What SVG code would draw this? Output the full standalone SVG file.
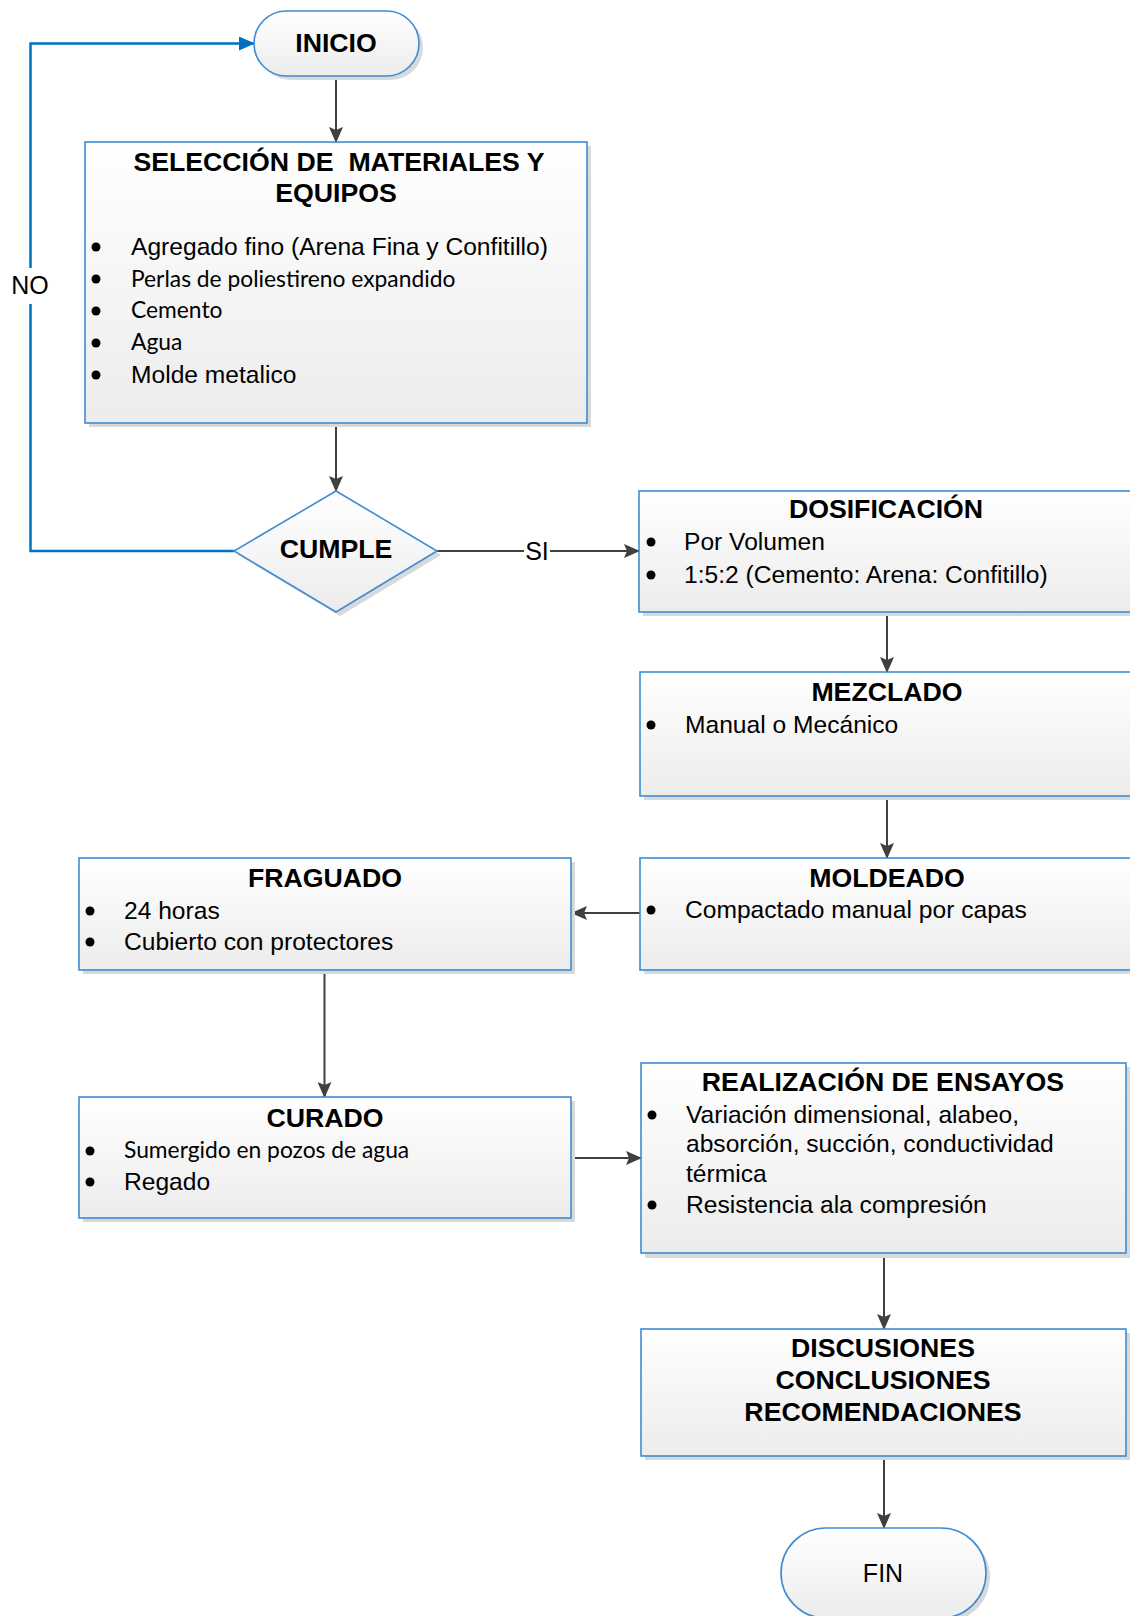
<svg xmlns="http://www.w3.org/2000/svg" width="1130" height="1616" viewBox="0 0 1130 1616">
<defs>
<linearGradient id="g" x1="0" y1="0" x2="0" y2="1">
<stop offset="0" stop-color="#ffffff"/>
<stop offset="1" stop-color="#ececec"/>
</linearGradient>
<marker id="ah" markerWidth="16" markerHeight="14" refX="15" refY="7" orient="auto" markerUnits="userSpaceOnUse">
<path d="M0,0 L16,7 L0,14 L3,7 Z" fill="#404040"/>
</marker>
<marker id="ahb" markerWidth="16" markerHeight="14" refX="15" refY="7" orient="auto" markerUnits="userSpaceOnUse">
<path d="M0,0 L16,7 L0,14 Z" fill="#0070c0"/>
</marker>
<style>
.box{fill:url(#g);stroke:#3d8cd4;stroke-width:1.6}
.sh{fill:#d9d9d9}
.t{font-family:"Liberation Sans",Arial,sans-serif;font-weight:bold;font-size:26.7px;fill:#000;text-anchor:middle}
.b{font-family:"Liberation Sans",Arial,sans-serif;font-size:24.6px;fill:#000}
.c{font-family:Lato,"Open Sans",sans-serif;font-size:22.8px;fill:#000}
.lbl{font-family:"Liberation Sans",Arial,sans-serif;font-size:25px;fill:#000;text-anchor:middle}
.dot{fill:#000}
.cn{fill:none;stroke:#404040;stroke-width:2}
.cb{fill:none;stroke:#0070c0;stroke-width:2.5}
</style>
</defs>
<rect width="1130" height="1616" fill="#fff"/>

<g id="connectors">
<line class="cn" x1="336" y1="76" x2="336" y2="142" marker-end="url(#ah)"/>
<line class="cn" x1="336" y1="423" x2="336" y2="491" marker-end="url(#ah)"/>
<line class="cn" x1="437" y1="551" x2="639" y2="551" marker-end="url(#ah)"/>
<rect x="524" y="536" width="26" height="28" fill="#fff"/>
<text class="lbl" x="537" y="560">SI</text>
<path class="cb" d="M234,551 H30.5 V43.5 H254" marker-end="url(#ahb)"/>
<rect x="8" y="268" width="46" height="36" fill="#fff"/>
<text class="lbl" x="30" y="294">NO</text>
<line class="cn" x1="887" y1="612" x2="887" y2="672" marker-end="url(#ah)"/>
<line class="cn" x1="887" y1="796" x2="887" y2="858" marker-end="url(#ah)"/>
<line class="cn" x1="640" y1="913" x2="572" y2="913" marker-end="url(#ah)"/>
<line class="cn" x1="324.5" y1="970" x2="324.5" y2="1097" marker-end="url(#ah)"/>
<line class="cn" x1="572" y1="1158" x2="641" y2="1158" marker-end="url(#ah)"/>
<line class="cn" x1="884" y1="1253" x2="884" y2="1329" marker-end="url(#ah)"/>
<line class="cn" x1="884" y1="1456" x2="884" y2="1528" marker-end="url(#ah)"/>
</g>

<g id="inicio">
<rect class="sh" x="258" y="15" width="165" height="65" rx="32.5"/>
<rect class="box" x="254" y="11" width="165" height="65" rx="32.5"/>
<text class="t" x="336" y="52" font-size="25.5">INICIO</text>
</g>

<g id="seleccion">
<rect class="sh" x="89" y="146" width="502" height="281"/>
<rect class="box" x="85" y="142" width="502" height="281"/>
<text class="t" x="339" y="171" xml:space="preserve">SELECCIÓN DE  MATERIALES Y</text>
<text class="t" x="336" y="202">EQUIPOS</text>
<circle class="dot" cx="96" cy="247" r="4.5"/>
<text class="b" x="131" y="255">Agregado fino (Arena Fina y Confitillo)</text>
<circle class="dot" cx="96" cy="279" r="4.5"/>
<text class="c" x="131" y="287">Perlas de poliestireno expandido</text>
<circle class="dot" cx="96" cy="311" r="4.5"/>
<text class="c" x="131" y="318">Cemento</text>
<circle class="dot" cx="96" cy="343" r="4.5"/>
<text class="c" x="131" y="350">Agua</text>
<circle class="dot" cx="96" cy="375" r="4.5"/>
<text class="b" x="131" y="383">Molde metalico</text>
</g>

<g id="cumple">
<polygon class="sh" points="340,495 441,555 340,616 238,555"/>
<polygon class="box" points="336,491 437,551 336,612 234,551"/>
<text class="t" x="336" y="558">CUMPLE</text>
</g>

<g id="dosificacion">
<rect class="sh" x="643" y="495" width="500" height="121"/>
<rect class="box" x="639" y="491" width="500" height="121"/>
<text class="t" x="886" y="518">DOSIFICACIÓN</text>
<circle class="dot" cx="651" cy="542" r="4.5"/>
<text class="b" x="684" y="550">Por Volumen</text>
<circle class="dot" cx="651" cy="575" r="4.5"/>
<text class="b" x="684" y="583">1:5:2 (Cemento: Arena: Confitillo)</text>
</g>

<g id="mezclado">
<rect class="sh" x="644" y="676" width="500" height="124"/>
<rect class="box" x="640" y="672" width="500" height="124"/>
<text class="t" x="887" y="701">MEZCLADO</text>
<circle class="dot" cx="651" cy="725" r="4.5"/>
<text class="b" x="685" y="733">Manual o Mecánico</text>
</g>

<g id="moldeado">
<rect class="sh" x="644" y="862" width="500" height="112"/>
<rect class="box" x="640" y="858" width="500" height="112"/>
<text class="t" x="887" y="887">MOLDEADO</text>
<circle class="dot" cx="651" cy="910" r="4.5"/>
<text class="b" x="685" y="918">Compactado manual por capas</text>
</g>

<g id="fraguado">
<rect class="sh" x="83" y="862" width="492" height="112"/>
<rect class="box" x="79" y="858" width="492" height="112"/>
<text class="t" x="325" y="887">FRAGUADO</text>
<circle class="dot" cx="90" cy="911" r="4.5"/>
<text class="b" x="124" y="919">24 horas</text>
<circle class="dot" cx="90" cy="942" r="4.5"/>
<text class="b" x="124" y="950">Cubierto con protectores</text>
</g>

<g id="curado">
<rect class="sh" x="83" y="1101" width="492" height="121"/>
<rect class="box" x="79" y="1097" width="492" height="121"/>
<text class="t" x="325" y="1127">CURADO</text>
<circle class="dot" cx="90" cy="1151" r="4.5"/>
<text class="c" x="124" y="1158">Sumergido en pozos de agua</text>
<circle class="dot" cx="90" cy="1182" r="4.5"/>
<text class="b" x="124" y="1190">Regado</text>
</g>

<g id="realizacion">
<rect class="sh" x="645" y="1067" width="485" height="191"/>
<rect class="box" x="641" y="1063" width="485" height="190"/>
<text class="t" x="883" y="1091">REALIZACIÓN DE ENSAYOS</text>
<circle class="dot" cx="652" cy="1115" r="4.5"/>
<text class="b" x="686" y="1123">Variación dimensional, alabeo,</text>
<text class="b" x="686" y="1152">absorción, succión, conductividad</text>
<text class="b" x="686" y="1182">térmica</text>
<circle class="dot" cx="652" cy="1205" r="4.5"/>
<text class="b" x="686" y="1213">Resistencia ala compresión</text>
</g>

<g id="discusiones">
<rect class="sh" x="645" y="1333" width="485" height="127"/>
<rect class="box" x="641" y="1329" width="485" height="127"/>
<text class="t" x="883" y="1357">DISCUSIONES</text>
<text class="t" x="883" y="1389">CONCLUSIONES</text>
<text class="t" x="883" y="1421">RECOMENDACIONES</text>
</g>

<g id="fin">
<rect class="sh" x="785" y="1532" width="205" height="90" rx="45"/>
<rect class="box" x="781" y="1528" width="205" height="90" rx="45"/>
<text class="lbl" x="883" y="1582">FIN</text>
</g>
</svg>
